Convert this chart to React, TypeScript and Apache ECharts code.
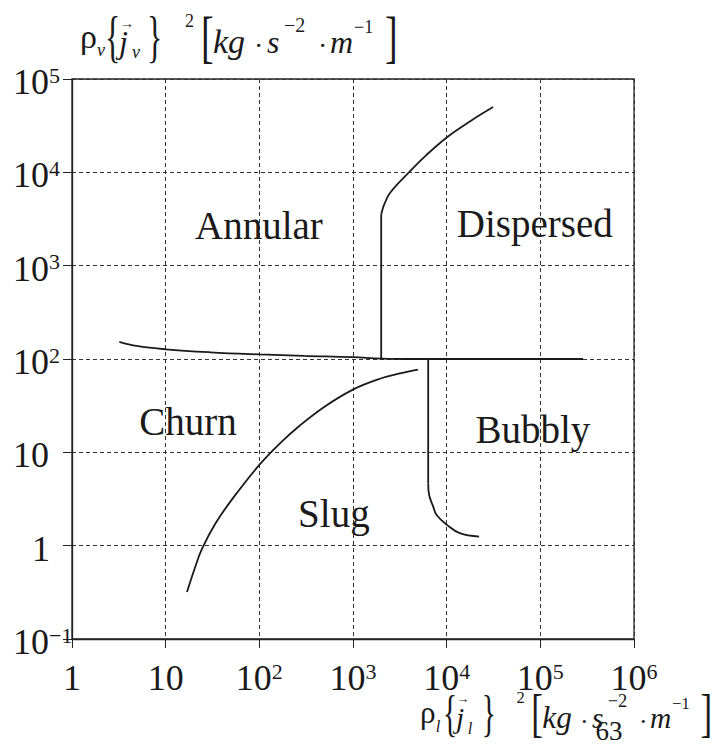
import React, { useEffect, useRef } from 'react';
import * as echarts from 'echarts';

// Flow regime map: liquid momentum flux vs. vapour momentum flux (both log scales)
const xRange = [1, 1e6];
const yRange = [0.1, 1e5];

// Boundary between churn (below) and annular (above), continuing as the horizontal 10^2 line
const churnAnnularLine: [number, number][] = [
  [3.2, 153], [4.9, 138], [10, 127], [30, 118], [100, 112], [300, 108],
  [1000, 104.5], [2000, 101], [5000, 100], [20000, 100], [100000, 100], [286000, 100],
];
// Annular / dispersed boundary: vertical stem, then the bending curve
const annularDispersedStem: [number, number][] = [[2000, 100], [2000, 3500]];
const annularDispersedCurve: [number, number][] = [
  [2000, 3500], [2050, 3890], [2150, 4500], [2480, 6000], [3880, 9800],
  [6100, 15400], [10100, 23800], [17700, 35100], [31300, 50000],
];
// Slug / bubbly boundary: vertical stem, then the bending curve
const slugBubblyStem: [number, number][] = [[6350, 100], [6350, 4.67]];
const slugBubblyCurve: [number, number][] = [
  [6350, 4.67], [6500, 3.49], [7180, 2.62], [7800, 2.13],
  [10100, 1.67], [13800, 1.36], [22200, 1.25],
];
// Slug / churn boundary
const slugChurnLine: [number, number][] = [
  [16.9, 0.319], [20.5, 0.577], [24.4, 0.922], [33.6, 1.7], [52.3, 3.23], [101, 7.42],
  [166, 12.5], [271, 19.4], [501, 31], [998, 47], [1940, 61.4], [3170, 70], [4930, 77],
];

const regionNames = ['Annular', 'Dispersed', 'Churn', 'Slug', 'Bubbly'];
const regionAnchors: [number, number][] = [
  [99, 2700], [87300, 2800], [17.3, 21.2], [625, 2.19], [83200, 17.4],
];

const SERIF = 'Liberation Serif';
const INK = '#1a1a1a';

function decadeLabel(v: number, padOne: boolean): string {
  const e = Math.round(Math.log10(v));
  if (e === 0) return padOne ? '{one|1}' : '{b|1}';
  if (e === 1) return '{b|10}';
  const exp = e < 0 ? '\u2212' + Math.abs(e) : String(e);
  return `{b|10}{s|${exp}}`;
}

const labelRich = {
  b: { fontSize: 36, fontFamily: SERIF, color: INK },
  s: { fontSize: 22, fontFamily: SERIF, color: INK, verticalAlign: 'top' as const },
  one: { fontSize: 36, fontFamily: SERIF, color: INK, padding: [0, 0, 0, 19] },
};

// [text, x, centre y, font size, italic, vertical stretch]
type Piece = [string, number, number, number, boolean, number?];

const titlePieces = (sub: string): Piece[] => [
  ['\u03c1', 80, 36, 34, false],
  [sub, 97, 50, 18, true],
  ['{', 105, 37, 32, false, 1.75],
  ['\u2192', 120, 23, 14, false],
  ['j', 119, 42, 32, true],
  [sub, 132, 52, 18, true],
  ['}', 147, 37, 32, false, 1.75],
  ['2', 185, 21, 18, false],
  ['[', 201, 37, 38, false, 1.5],
  ['kg', 213, 41.5, 34, true],
  ['\u00b7', 254, 45.5, 28, false],
  ['s', 267, 42, 32, true],
  ['\u22122', 284, 25, 20, false],
  ['\u00b7', 318, 45.5, 28, false],
  ['m', 330, 42, 32, true],
  ['\u22121', 354, 27, 18, false],
  [']', 385, 37, 38, false, 1.5],
];

function buildTitle(pieces: Piece[], ox: number, oy: number, k: number, dy: number) {
  return pieces.map(([text, x, cy, size, italic, sy]) => ({
    type: 'text',
    x: ox + (x - 80) * k,
    y: cy + dy + oy,
    scaleY: sy ?? 1,
    silent: true,
    style: {
      text,
      font: `${italic ? 'italic ' : ''}${(size * k).toFixed(1)}px "Liberation Serif"`,
      fontSize: size * k,
      fontStyle: italic ? 'italic' : 'normal',
      fontFamily: SERIF,
      fill: INK,
      align: 'left',
      verticalAlign: 'middle',
    },
  }));
}

const lineSeries = (data: [number, number][], smooth: number | boolean) => ({
  type: 'line',
  data,
  showSymbol: false,
  smooth,
  silent: true,
  lineStyle: { color: INK, width: 1.8 },
});

export default function App() {
  const ref = useRef<HTMLDivElement>(null);

  useEffect(() => {
    const chart = echarts.init(ref.current!, null, { renderer: 'svg' });
    const option = {
      animation: false,
      backgroundColor: '#fff',
      textStyle: { fontFamily: SERIF },
      grid: {
        left: 72, right: 79, top: 79, bottom: 109,
        show: true, borderColor: '#222', borderWidth: 1.3,
      },
      xAxis: {
        type: 'log', logBase: 10, min: xRange[0], max: xRange[1], splitNumber: 6,
        axisLine: { show: true, lineStyle: { color: '#222', width: 1.3 } },
        axisTick: { show: true, inside: false, length: 9, lineStyle: { color: '#222', width: 1 } },
        splitLine: { show: true, lineStyle: { color: '#333', width: 1, type: [4, 3] } },
        axisLabel: {
          margin: 21, align: 'center', fontFamily: SERIF, fontSize: 36, color: INK,
          formatter: (v: number) => decadeLabel(v, false), rich: labelRich,
        },
      },
      yAxis: {
        type: 'log', logBase: 10, min: yRange[0], max: yRange[1], splitNumber: 6,
        axisLine: { show: true, lineStyle: { color: '#222', width: 1.3 } },
        axisTick: { show: true, inside: false, length: 9, lineStyle: { color: '#222', width: 1 } },
        splitLine: { show: true, lineStyle: { color: '#333', width: 1, type: [4, 3] } },
        axisLabel: {
          margin: 59, align: 'left', padding: [6, 0, 0, 0], fontFamily: SERIF, fontSize: 36, color: INK,
          formatter: (v: number) => decadeLabel(v, true), rich: labelRich,
        },
      },
      series: [
        lineSeries(churnAnnularLine, 0.4),
        lineSeries(annularDispersedStem, false),
        lineSeries(annularDispersedCurve, 0.4),
        lineSeries(slugBubblyStem, false),
        lineSeries(slugBubblyCurve, 0.4),
        lineSeries(slugChurnLine, 0.4),
        {
          type: 'scatter',
          silent: true,
          symbolSize: 1,
          itemStyle: { color: 'rgba(0,0,0,0)', opacity: 1 },
          data: regionAnchors.map((p, i) => [p[0], p[1], regionNames[i]]),
          label: {
            show: true,
            position: 'inside',
            formatter: (p: any) => p.data[2],
            fontFamily: SERIF,
            fontSize: 39,
            color: INK,
            opacity: 1,
          },
          labelLayout: { hideOverlap: false },
        },
      ],
      graphic: [
        ...buildTitle(titlePieces('v'), 80, 0, 1, 0),
        ...buildTitle(titlePieces('l'), 420, 0, 0.92, 676),
        {
          type: 'text', x: 609, y: 731, silent: true,
          style: {
            text: '63', font: '27px "Liberation Serif"', fontSize: 27, fontFamily: SERIF, fill: INK,
            align: 'center', verticalAlign: 'middle',
          },
        },
      ],
    };
    chart.setOption(option as any);
    return () => chart.dispose();
  }, []);

  return (
    <div
      ref={ref}
      style={{ position: 'fixed', left: 0, top: 0, width: 713, height: 748, background: '#fff' }}
    />
  );
}
